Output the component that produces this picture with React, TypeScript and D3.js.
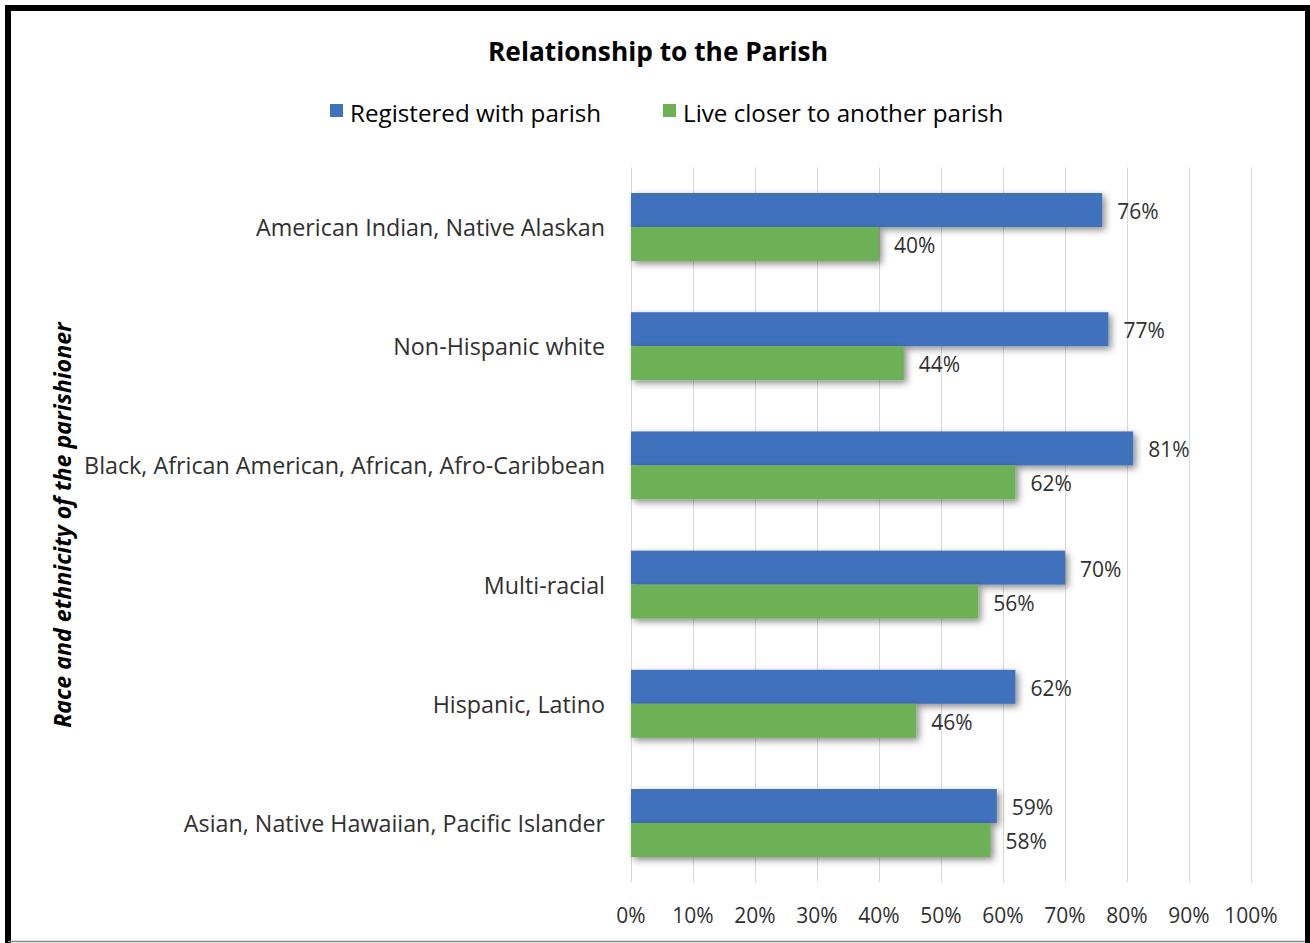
import React from 'react';
import * as d3 from 'd3';

const categories = [
  'American Indian, Native Alaskan',
  'Non-Hispanic white',
  'Black, African American, African, Afro-Caribbean',
  'Multi-racial',
  'Hispanic, Latino',
  'Asian, Native Hawaiian, Pacific Islander',
];
const registered = [76, 77, 81, 70, 62, 59];
const liveCloser = [40, 44, 62, 56, 46, 58];
const seriesNames = ['Registered with parish', 'Live closer to another parish'];
const seriesColors = ['#4171BC', '#6CB155'];
const xTicks = [0, 10, 20, 30, 40, 50, 60, 70, 80, 90, 100];

const W = 1310;
const H = 943;
const FONT = '"Open Sans", "Noto Sans", sans-serif';

const App: React.FC = () => {
  const plot = { left: 631, right: 1251, top: 167.4, bottom: 882.6 };
  const x = d3.scaleLinear().domain([0, 100]).range([plot.left, plot.right]);
  const y = d3
    .scaleBand<string>()
    .domain(categories)
    .range([plot.top, plot.bottom])
    .paddingInner(0.43)
    .paddingOuter(0.215);
  const sub = d3
    .scaleBand<number>()
    .domain([0, 1])
    .range([0, y.bandwidth()]);
  const series = [registered, liveCloser];

  return (
    <svg
      width={W}
      height={H}
      style={{ position: 'absolute', left: 0, top: 0, background: '#fff' }}
      fontFamily={FONT}
    >
      <defs>
        <filter id="shadow" x="-10%" y="-50%" width="120%" height="200%">
          <feDropShadow dx="3" dy="3" stdDeviation="3.5" floodColor="#000" floodOpacity="0.45" />
        </filter>
      </defs>
      {/* frame */}
      <rect x={0} y={0} width={W} height={H} fill="#fff" />
      <line x1={5} x2={1310} y1={8} y2={8} stroke="#000" strokeWidth={6} />
      <line x1={8} x2={8} y1={5} y2={943} stroke="#000" strokeWidth={6} />
      <line x1={1307.5} x2={1307.5} y1={5} y2={943} stroke="#000" strokeWidth={5} />
      <line x1={8} x2={1305} y1={941.5} y2={941.5} stroke="#888" strokeWidth={1.5} />

      {/* title */}
      <text x={658} y={51} textAnchor="middle" dominantBaseline="central" fontSize={26.3} fontWeight="bold" fill="#000">
        Relationship to the Parish
      </text>

      {/* legend */}
      {seriesNames.map((name, i) => {
        const lx = [330, 663][i];
        return (
          <g key={name}>
            <rect x={lx} y={104} width={13} height={13} fill={seriesColors[i]} />
            <text x={lx + 20} y={112} dominantBaseline="central" fontSize={24.2} fill="#000">
              {name}
            </text>
          </g>
        );
      })}

      {/* gridlines */}
      {xTicks.map((t) => (
        <line
          key={t}
          x1={x(t) + 0.5}
          x2={x(t) + 0.5}
          y1={plot.top}
          y2={plot.bottom}
          stroke="#d9d9d9"
          strokeWidth={1}
        />
      ))}

      {/* bars */}
      {categories.map((c, ci) =>
        series.map((vals, si) => (
          <rect
            key={`${c}-${si}`}
            x={x(0)}
            y={(y(c) as number) + (sub(si) as number)}
            width={x(vals[ci]) - x(0)}
            height={sub.bandwidth()}
            fill={seriesColors[si]}
            filter="url(#shadow)"
          />
        ))
      )}

      {/* value labels */}
      {categories.map((c, ci) =>
        series.map((vals, si) => (
          <text
            key={`l-${c}-${si}`}
            x={x(vals[ci]) + 15}
            y={(y(c) as number) + (sub(si) as number) + sub.bandwidth() / 2 + 1}
            dominantBaseline="central"
            fontSize={21}
            fill="#303030"
          >
            {vals[ci]}%
          </text>
        ))
      )}

      {/* category labels */}
      {categories.map((c) => (
        <text
          key={`c-${c}`}
          x={605}
          y={(y(c) as number) + y.bandwidth() / 2}
          textAnchor="end"
          dominantBaseline="central"
          fontSize={23.3}
          fill="#303030"
        >
          {c}
        </text>
      ))}

      {/* x tick labels */}
      {xTicks.map((t) => (
        <text
          key={`t-${t}`}
          x={x(t)}
          y={915}
          textAnchor="middle"
          dominantBaseline="central"
          fontSize={21}
          fill="#303030"
        >
          {t}%
        </text>
      ))}

      {/* y axis title */}
      <text
        transform={`translate(62, ${(plot.top + plot.bottom) / 2}) rotate(-90)`}
        textAnchor="middle"
        dominantBaseline="central"
        fontSize={23.2}
        fontWeight="bold"
        fontStyle="italic"
        fill="#000"
      >
        Race and ethnicity of the parishioner
      </text>
    </svg>
  );
};

export default App;
